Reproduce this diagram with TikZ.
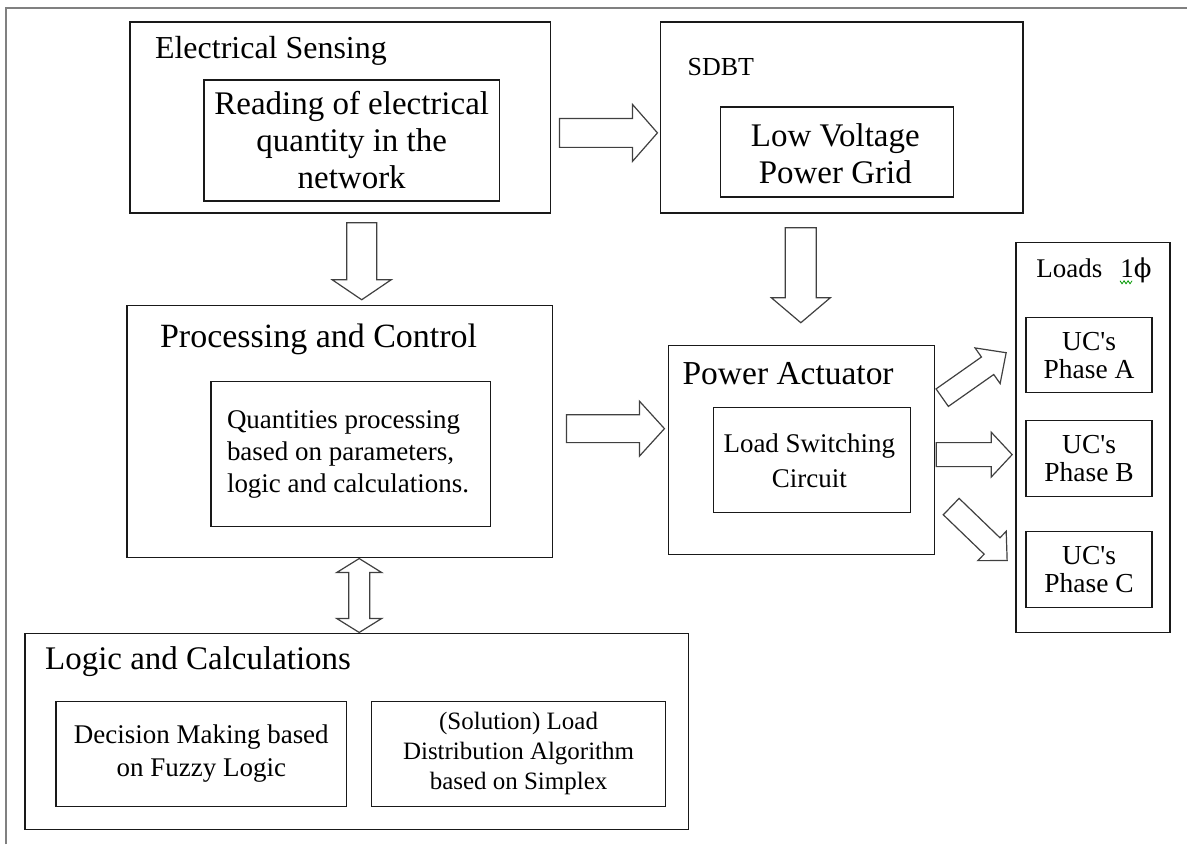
\documentclass[tikz,border=0pt]{standalone}
\usepackage{fontspec}
\setmainfont{Liberation Serif}[Ligatures=TeXOff]
\newfontfamily\phifont{DejaVu Serif}
\usetikzlibrary{calc}

\newcommand{\myblockarrow}[5]{% tail, tip, half shaft, half head, head length
  \coordinate (ba-h) at ($(#2)!#5!(#1)$);
  \draw[arrowbox] ($(#1)!#3!90:(#2)$) -- ($(ba-h)!#3!90:(#2)$) -- ($(ba-h)!#4!90:(#2)$) -- (#2)
    -- ($(ba-h)!#4!-90:(#2)$) -- ($(ba-h)!#3!-90:(#2)$) -- ($(#1)!#3!-90:(#2)$) -- cycle;}
\newcommand{\mydoublearrow}[5]{% end1, end2, half shaft, half head, head length
  \coordinate (da-a) at ($(#1)!#5!(#2)$);
  \coordinate (da-b) at ($(#2)!#5!(#1)$);
  \draw[arrowbox] (#1) -- ($(da-a)!#4!90:(#2)$) -- ($(da-a)!#3!90:(#2)$) -- ($(da-b)!#3!90:(#2)$)
    -- ($(da-b)!#4!90:(#2)$) -- (#2) -- ($(da-b)!#4!-90:(#2)$) -- ($(da-b)!#3!-90:(#2)$)
    -- ($(da-a)!#3!-90:(#2)$) -- ($(da-a)!#4!-90:(#2)$) -- cycle;}

\tikzset{
  box/.style n args={2}{draw=black!90, line width=1.4pt, inner sep=0pt, minimum width=#1, minimum height=#2},
  arrowbox/.style={draw=black!75, line width=1.2pt, fill=white, line join=miter},
  frame/.style={draw=black!50, line width=2pt},
  ttl/.style={anchor=base west, inner sep=0pt, font=\fontsize{#1}{#1}\selectfont},
  txt/.style n args={2}{align=center, inner sep=0pt, font=\fontsize{#1}{#2}\selectfont},
}

\begin{document}
\begin{tikzpicture}[x=1pt,y=-1pt]
\fill[white] (0,0) rectangle (1188,845);
\draw[frame] (6,845) -- (6,8) -- (1188,8);

% boxes
\node[box={421pt}{191pt}] (es) at (340.5,117.5) {};
\node[box={296pt}{121pt}] (esIn) at (352,140.5) {};
\node[box={363pt}{191pt}] (sdbt) at (842.5,117.5) {};
\node[box={233pt}{90pt}] (sdbtIn) at (837.5,152) {};
\node[box={426pt}{252pt}] (pc) at (340,432) {};
\node[box={280pt}{145pt}] (pcIn) at (351,454.5) {};
\node[box={266pt}{209pt}] (pa) at (802,450.5) {};
\node[box={197pt}{105pt}] (paIn) at (812.5,460.5) {};
\node[box={154pt}{390pt}] (loads) at (1094,438) {};
\node[box={126pt}{75pt}] (ucA) at (1090,355.5) {};
\node[box={126pt}{76pt}] (ucB) at (1090,459) {};
\node[box={126pt}{76pt}] (ucC) at (1090,570) {};
\node[box={664pt}{196pt}] (lc) at (357,732) {};
\node[box={291pt}{105pt}] (lcA) at (201.5,754.5) {};
\node[box={294pt}{105pt}] (lcB) at (519,754.5) {};

% titles
\node[ttl=32] (esT) at (155,59) {Electrical Sensing};
\node[ttl=26] (sdbtT) at (688,76) {SDBT};
\node[ttl=34] (pcT) at (160,348) {Processing and Control};
\node[ttl=33.5] (paT) at (683,385) {Power Actuator};
\node[ttl=33] (lcT) at (45,670) {Logic and Calculations};
\node[ttl=27] (loadsT) at (1037,278) {Loads};
\node[ttl=27] (phiT) at (1121,278) {1{\phifont\fontsize{26}{26}\selectfont ϕ}};
\draw[green!60!black, line width=0.8pt] ($(phiT.base west)+(0,3)$) -- ++(2,3) -- ++(2,-3) -- ++(2,3) -- ++(2,-3) -- ++(2,3) -- ++(2,-3);

% inner texts
\node[txt={33}{37}] (esTx) at (esIn.center) {Reading of electrical\\quantity in the\\network};
\node[txt={33}{37}] (sdbtTx) at (836,154) {Low Voltage\\Power Grid};
\node[txt={27}{35}] (paTx) at (810,461) {Load Switching\\Circuit};
\node[txt={27}{32}, align=left, anchor=west] (pcTx) at (227,455) {Quantities processing\\based on parameters,\\logic and calculations.};
\node[txt={27.5}{28}] (ucATx) at (ucA.center) {UC's\\Phase A};
\node[txt={27.5}{28}] (ucBTx) at (ucB.center) {UC's\\Phase B};
\node[txt={27.5}{28}] (ucCTx) at (ucC.center) {UC's\\Phase C};
\node[txt={27}{33}] (lcATx) at (lcA.center) {Decision Making based\\on Fuzzy Logic};
\node[txt={25}{30}] (lcBTx) at (lcB.center) {(Solution) Load\\Distribution Algorithm\\based on Simplex};

% arrow end points
\coordinate (a1s) at (560,133);  \coordinate (a1e) at (658,133);
\coordinate (a2s) at (362,223);  \coordinate (a2e) at (362,300);
\coordinate (a3s) at (801.5,228); \coordinate (a3e) at (801.5,323);
\coordinate (a4s) at (567,429);  \coordinate (a4e) at (665,429);
\coordinate (a5s) at (937,455);  \coordinate (a5e) at (1013,455);
\coordinate (a6s) at (943,398);  \coordinate (a6e) at (1007,353);
\coordinate (a7s) at (952,507);  \coordinate (a7e) at (1008,561);
\coordinate (a8s) at (359.5,559); \coordinate (a8e) at (359.5,633);

\myblockarrow{a1s}{a1e}{14.5pt}{28.5pt}{25pt}
\myblockarrow{a2s}{a2e}{15pt}{29.5pt}{20pt}
\myblockarrow{a3s}{a3e}{15.5pt}{29.5pt}{25pt}
\myblockarrow{a4s}{a4e}{14pt}{27.5pt}{25pt}
\myblockarrow{a5s}{a5e}{12pt}{22.5pt}{21pt}
\myblockarrow{a6s}{a6e}{10.7pt}{21.8pt}{22.7pt}
\myblockarrow{a7s}{a7e}{11.4pt}{20.4pt}{21pt}
\mydoublearrow{a8s}{a8e}{10.5pt}{22.5pt}{14pt}
\end{tikzpicture}
\end{document}
